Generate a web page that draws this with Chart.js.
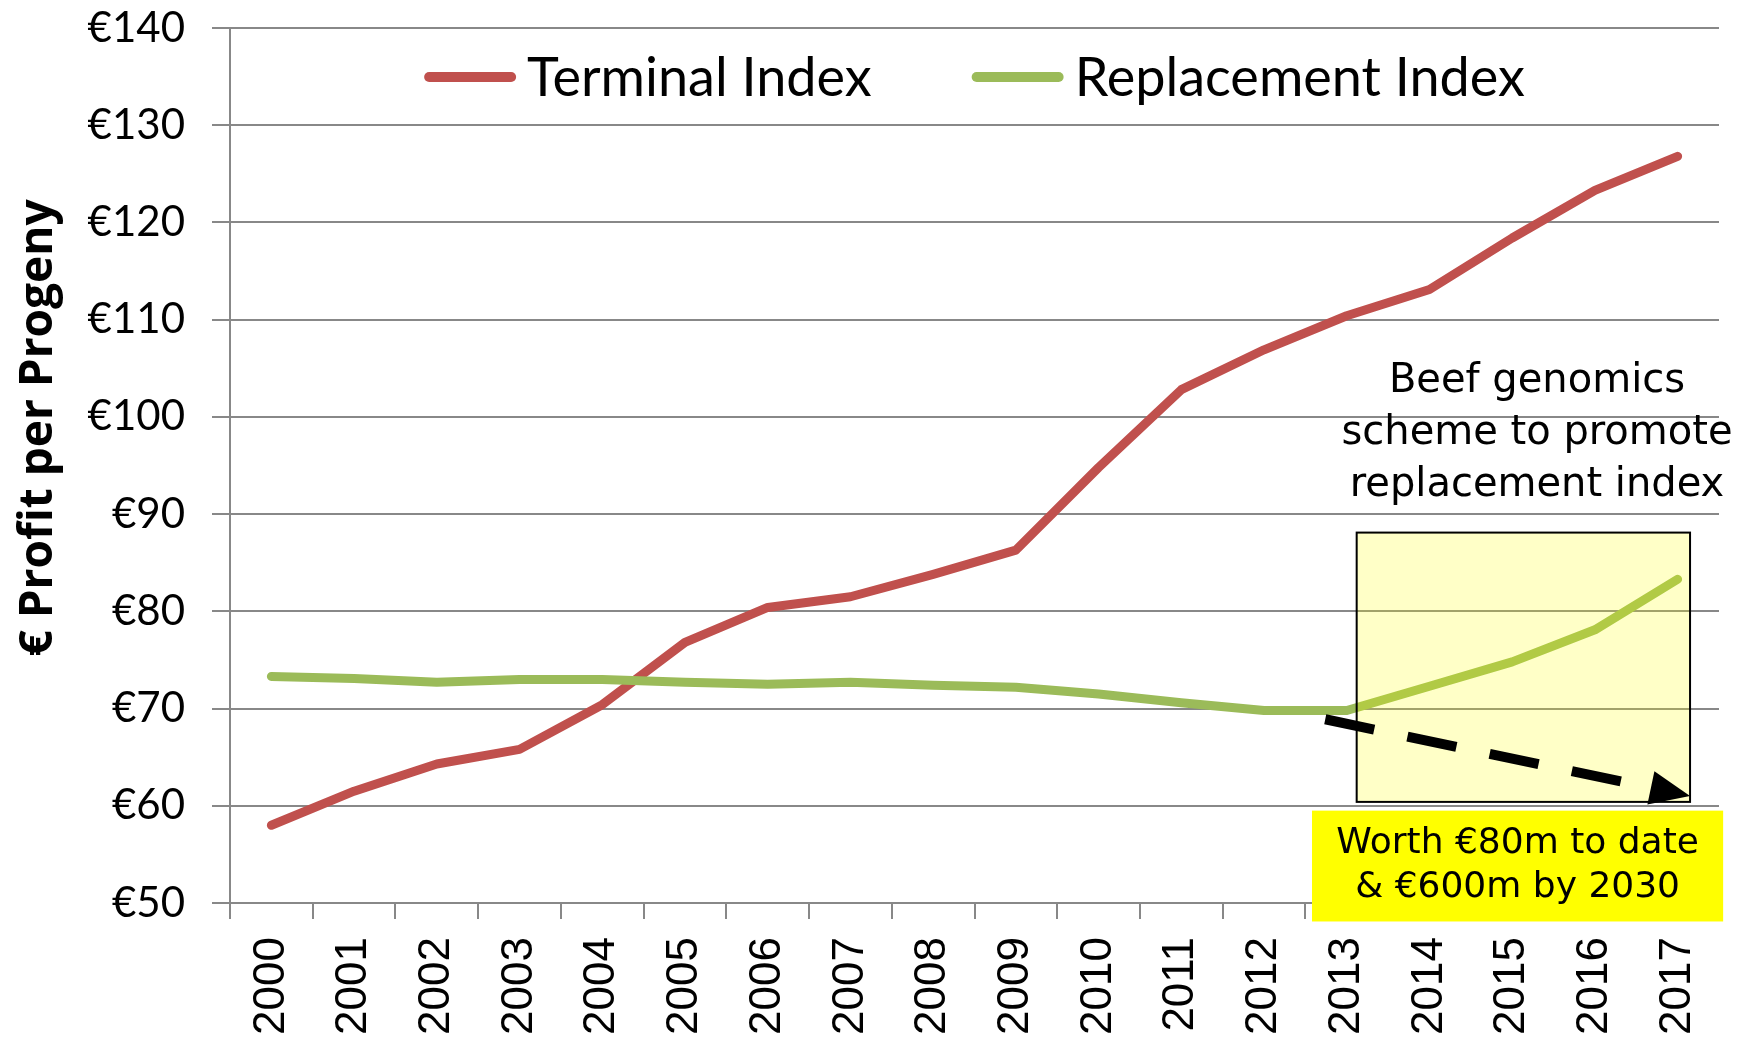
<!DOCTYPE html>
<html>
<head>
<meta charset="utf-8">
<script src="https://cdn.jsdelivr.net/npm/chart.js@4.4.1/dist/chart.umd.min.js"></script>
<style>
  body { margin: 0; background: #fff; }
  #wrap { width: 1756px; height: 1040px; }
</style>
</head>
<body>
<div id="wrap"><canvas id="indexChart" width="1756" height="1040"></canvas></div>
<script>
// values
const years = ['2000', '2001', '2002', '2003', '2004', '2005', '2006', '2007', '2008',
  '2009', '2010', '2011', '2012', '2013', '2014', '2015', '2016', '2017'];
const terminalIndex = [58.0, 61.5, 64.3, 65.8, 70.4, 76.8, 80.4, 81.5, 83.8,
  86.3, 94.8, 102.8, 106.9, 110.4, 113.1, 118.4, 123.3, 126.8];
const replacementIndex = [73.3, 73.1, 72.7, 73.0, 73.0, 72.7, 72.5, 72.7, 72.4,
  72.2, 71.5, 70.6, 69.8, 69.8, 72.3, 74.8, 78.1, 83.3];
const yTickValues = [50, 60, 70, 80, 90, 100, 110, 120, 130, 140];

const schemeNote = ['Beef genomics', 'scheme to promote', 'replacement index'];
const worthNote = ['Worth \u20AC80m to date', '& \u20AC600m by 2030'];

const GRID = '#888888';

// annotation shapes, in axis units (category index / euro)
const noteBox = { x0: 13.12, x1: 17.15, y0: 88.1, y1: 60.4 };
const arrow = { x0: 12.74, y0: 68.9, x1: 17.15, y1: 61.0 };
const worthBox = { x0: 12.58, x1: 17.55, y0: 59.5, y1: 48.1 };
const notePos = { x: 15.3, y: 103.6 };

const overlays = {
  id: 'overlays',
  afterDraw(chart) {
    const { ctx, chartArea, scales: { x, y } } = chart;
    ctx.save();

    // light yellow highlight box
    let bx = x.getPixelForValue(noteBox.x0), bx2 = x.getPixelForValue(noteBox.x1);
    let by = y.getPixelForValue(noteBox.y0), by2 = y.getPixelForValue(noteBox.y1);
    ctx.fillStyle = 'rgba(255, 255, 0, 0.22)';
    ctx.fillRect(bx, by, bx2 - bx, by2 - by);
    ctx.strokeStyle = '#000';
    ctx.lineWidth = 2;
    ctx.strokeRect(bx, by, bx2 - bx, by2 - by);

    // dashed arrow
    const ax = x.getPixelForValue(arrow.x0), ay = y.getPixelForValue(arrow.y0);
    const tx = x.getPixelForValue(arrow.x1), ty = y.getPixelForValue(arrow.y1);
    const ang = Math.atan2(ty - ay, tx - ax);
    const headLen = 40, headHalf = 17;
    const baseX = tx - headLen * Math.cos(ang), baseY = ty - headLen * Math.sin(ang);
    ctx.setLineDash([50, 34]);
    ctx.lineWidth = 10;
    ctx.lineCap = 'butt';
    ctx.beginPath();
    ctx.moveTo(ax, ay);
    ctx.lineTo(baseX - 8 * Math.cos(ang), baseY - 8 * Math.sin(ang));
    ctx.stroke();
    ctx.setLineDash([]);
    ctx.fillStyle = '#000';
    ctx.beginPath();
    ctx.moveTo(tx, ty);
    ctx.lineTo(baseX + headHalf * Math.sin(ang), baseY - headHalf * Math.cos(ang));
    ctx.lineTo(baseX - headHalf * Math.sin(ang), baseY + headHalf * Math.cos(ang));
    ctx.closePath();
    ctx.fill();

    // bright yellow "worth" box
    bx = x.getPixelForValue(worthBox.x0); bx2 = x.getPixelForValue(worthBox.x1);
    by = y.getPixelForValue(worthBox.y0); by2 = y.getPixelForValue(worthBox.y1);
    ctx.fillStyle = '#FFFF00';
    ctx.fillRect(bx, by, bx2 - bx, by2 - by);
    ctx.fillStyle = '#000';
    ctx.font = '36px "DejaVu Sans"';
    ctx.textAlign = 'center';
    ctx.textBaseline = 'middle';
    const wcx = (bx + bx2) / 2, wcy = (by + by2) / 2;
    worthNote.forEach((t, i) => ctx.fillText(t, wcx, wcy + (i - 0.5) * 44));

    // scheme note
    ctx.font = '40px "DejaVu Sans"';
    const nx = x.getPixelForValue(notePos.x), ny = y.getPixelForValue(notePos.y);
    schemeNote.forEach((t, i) => ctx.fillText(t, nx, ny + i * 52));

    // legend inside the plot
    ctx.font = '54px Lato';
    const lineLen = 92, gapText = 11, gapItem = 100;
    const items = chart.data.datasets.map(d => ({ label: d.label, color: d.borderColor,
      w: lineLen + gapText + ctx.measureText(d.label).width }));
    const total = items.reduce((s, it) => s + it.w, 0) + gapItem * (items.length - 1);
    let lx = (chartArea.left + chartArea.right) / 2 - total / 2;
    const ly = 77;
    ctx.textAlign = 'left';
    items.forEach(it => {
      ctx.strokeStyle = it.color;
      ctx.lineWidth = 10;
      ctx.lineCap = 'round';
      ctx.beginPath();
      ctx.moveTo(lx + 5, ly);
      ctx.lineTo(lx + lineLen - 5, ly);
      ctx.stroke();
      ctx.fillStyle = '#000';
      ctx.fillText(it.label, lx + lineLen + gapText, ly + 2);
      lx += it.w + gapItem;
    });

    // y axis title
    ctx.translate(52, 428);
    ctx.rotate(-Math.PI / 2);
    ctx.font = 'bold 46px "Open Sans"';
    ctx.textAlign = 'center';
    ctx.textBaseline = 'alphabetic';
    ctx.fillText('\u20AC Profit per Progeny', 0, 0);
    ctx.restore();
  }
};

new Chart(document.getElementById('indexChart'), {
  type: 'line',
  data: {
    labels: years,
    datasets: [
      {
        label: 'Terminal Index',
        data: terminalIndex,
        borderColor: '#C0504D',
        borderWidth: 9,
        order: 1
      },
      {
        label: 'Replacement Index',
        data: replacementIndex,
        borderColor: '#9BBB59',
        borderWidth: 9,
        order: 0
      }
    ]
  },
  options: {
    responsive: false,
    animation: false,
    events: [],
    layout: { padding: { top: 28, right: 37, left: 0, bottom: 0 } },
    elements: {
      point: { radius: 0 },
      line: { tension: 0, borderCapStyle: 'round', borderJoinStyle: 'round' }
    },
    plugins: {
      legend: { display: false },
      tooltip: { enabled: false }
    },
    scales: {
      x: {
        offset: true,
        grid: {
          offset: true,
          drawOnChartArea: false,
          drawTicks: true,
          tickLength: 16,
          color: GRID,
          lineWidth: 2
        },
        border: { display: true, color: GRID, width: 2 },
        ticks: {
          minRotation: 90,
          maxRotation: 90,
          padding: 18,
          color: '#000',
          font: { family: '"Liberation Sans"', size: 44 }
        },
        afterFit(axis) { axis.height = 137; }
      },
      y: {
        min: 50,
        max: 140,
        afterBuildTicks(axis) { axis.ticks = yTickValues.map(v => ({ value: v })); },
        grid: {
          color: GRID,
          lineWidth: 2,
          drawTicks: true,
          tickLength: 18
        },
        border: { display: true, color: GRID, width: 2 },
        ticks: {
          padding: 27,
          color: '#000',
          font: { family: 'Lato', size: 42 },
          callback: v => '\u20AC' + v
        },
        afterFit(axis) {
          axis.width = 230;
          axis.paddingTop = 0;
          axis.paddingBottom = 0;
        }
      }
    }
  },
  plugins: [overlays]
});
</script>
</body>
</html>
